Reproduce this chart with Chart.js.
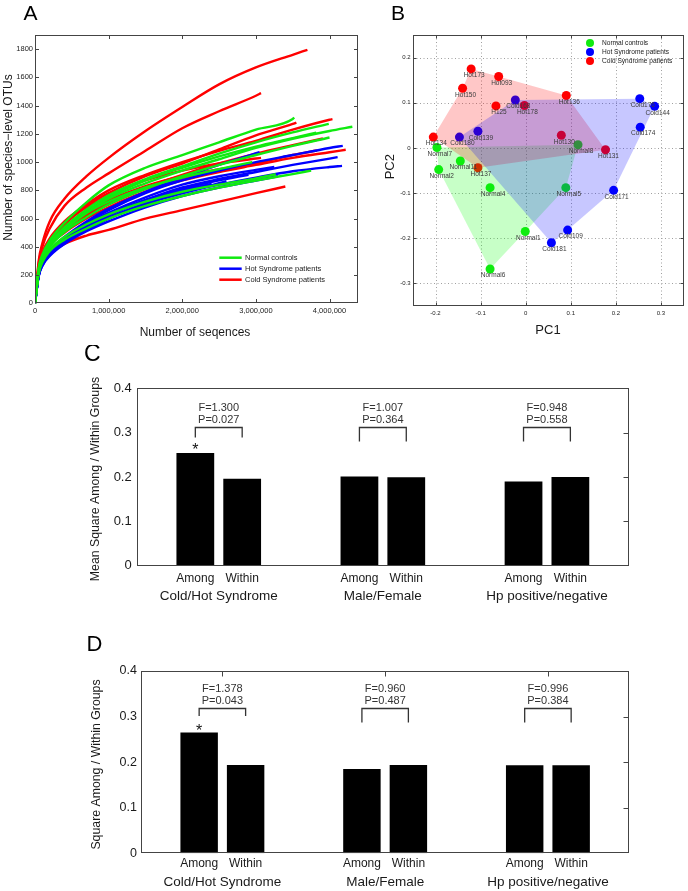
<!DOCTYPE html>
<html>
<head>
<meta charset="utf-8">
<script src="https://cdn.jsdelivr.net/npm/chart.js@4.4.1/dist/chart.umd.min.js"></script>
<style>
html, body { margin: 0; padding: 0; background: #fff; }
#fig { position: relative; width: 688px; height: 891px; overflow: hidden; background: #fff; }
#fig canvas { position: absolute; }
</style>
</head>
<body>
<div id="fig">
  <canvas id="chartA" width="370" height="345" style="left:0px;top:0px"></canvas>
  <canvas id="chartB" width="318" height="345" style="left:370px;top:0px"></canvas>
  <canvas id="chartC" width="688" height="285" style="left:0px;top:345px"></canvas>
  <canvas id="chartD" width="688" height="261" style="left:0px;top:630px"></canvas>
</div>
<script>
// ---------- Panel A: rarefaction curves (sequencing depth in millions) ----------
const depthsM = [0, 0.05, 0.1, 0.2, 0.4, 0.7, 1.0, 1.5, 2.0, 2.5, 3.0, 3.5, 4.0];

const normalCurves = [
    { v: [0, 250, 345, 445, 570, 715, 835, 960, 1050, 1140, 1230, 1305], end: [3.52, 1316] },
    { v: [0, 240, 330, 425, 540, 665, 765, 880, 970, 1060, 1140, 1210], end: [3.99, 1271] },
    { v: [0, 230, 320, 410, 520, 640, 740, 850, 940, 1020, 1100, 1165, 1220], end: [4.31, 1250] },
    { v: [0, 235, 325, 415, 530, 650, 750, 870, 960, 1040, 1110, 1170], end: [3.82, 1209] },
    { v: [0, 225, 310, 400, 505, 610, 700, 810, 900, 980, 1050, 1115], end: [4.0, 1174] },
    { v: [0, 210, 290, 370, 450, 530, 600, 690, 760, 820, 870, 915], end: [3.75, 940] },
    { v: [0, 215, 300, 380, 470, 560, 630, 720, 790, 840, 885], end: [3.27, 914] },
    { v: [0, 240, 330, 420, 530, 640, 720, 820, 890, 950], end: [2.95, 1000] }
];
const hotCurves = [
    { v: [0, 200, 280, 360, 460, 570, 660, 780, 870, 940, 1000, 1050, 1100], end: [4.18, 1115] },
    { v: [0, 210, 290, 370, 470, 580, 670, 790, 890, 980], end: [3.05, 1070] },
    { v: [0, 200, 275, 350, 440, 540, 620, 730, 820, 880, 930, 980, 1025], end: [4.11, 1035] },
    { v: [0, 195, 270, 340, 430, 520, 600, 700, 780, 840, 890, 935, 965], end: [4.17, 973] },
    { v: [0, 205, 285, 360, 455, 560, 640, 750, 840, 900, 945], end: [3.25, 965] },
    { v: [0, 200, 280, 355, 445, 540, 620, 730, 810, 870], end: [2.9, 910] },
    { v: [0, 195, 270, 345, 440, 530, 605, 710, 780, 850], end: [2.6, 865] },
    { v: [0, 190, 265, 335, 420, 510, 580, 680, 760, 820, 870], end: [3.3, 900] },
    { v: [0, 200, 275, 350, 450, 550, 630, 730, 800], end: [2.4, 845] }
];
const coldCurves = [
    { v: [0, 300, 425, 580, 740, 900, 1030, 1220, 1390, 1550, 1670, 1760], end: [3.7, 1795] },
    { v: [0, 280, 400, 530, 690, 820, 920, 1080, 1240, 1360, 1470], end: [3.07, 1488] },
    { v: [0, 260, 360, 460, 580, 700, 800, 910, 1000, 1080, 1150, 1230, 1300], end: [4.04, 1304] },
    { v: [0, 250, 350, 445, 560, 690, 780, 900, 990, 1090, 1190, 1270], end: [3.55, 1280] },
    { v: [0, 240, 335, 430, 530, 630, 710, 820, 910, 990, 1060, 1120], end: [3.91, 1167] },
    { v: [0, 230, 320, 410, 500, 600, 680, 790, 870, 930, 980, 1030, 1070], end: [4.22, 1087] },
    { v: [0, 235, 325, 420, 520, 620, 700, 810, 880, 940, 990, 1050], end: [3.83, 1082] },
    { v: [0, 245, 340, 440, 560, 680, 760, 870, 940, 990, 1025], end: [3.07, 1030] },
    { v: [0, 200, 280, 350, 420, 480, 520, 600, 660, 720, 780], end: [3.4, 827] },
    { v: [0, 240, 330, 425, 540, 650, 730, 830, 900, 950], end: [2.9, 985] }
];
const aXTicks = [0, 1000000, 2000000, 3000000, 4000000];
const aXTickLabels = ['0', '1,000,000', '2,000,000', '3,000,000', '4,000,000'];
const aYTicks = [0, 200, 400, 600, 800, 1000, 1200, 1400, 1600, 1800];
const aYTickLabels = ['0', '200', '400', '600', '800', '1000', '1200', '1400', '1600', '1800'];
const groupNames = ['Normal controls', 'Hot Syndrome patients', 'Cold Syndrome patients'];

// ---------- Panel B: PCA ----------
const normalNames = ['Normal7', 'Normal2', 'Normal11', 'Normal4', 'Normal5', 'Normal1', 'Normal6', 'Normal8'];
const normalPC1 = [-0.197, -0.193, -0.145, -0.079, 0.089, -0.001, -0.079, 0.116];
const normalPC2 = [0.001, -0.048, -0.029, -0.088, -0.088, -0.185, -0.268, 0.007];

const hotNames = ['Cold180', 'Cold139', 'Cold168', 'Cold176', 'Cold144', 'Cold174', 'Cold171', 'Cold109', 'Cold181'];
const hotPC1 = [-0.147, -0.106, -0.023, 0.253, 0.286, 0.254, 0.195, 0.093, 0.057];
const hotPC2 = [0.024, 0.037, 0.106, 0.109, 0.092, 0.046, -0.094, -0.182, -0.210];

const coldNames = ['Hot173', 'Hot093', 'Hot150', 'H125', 'Hot178', 'Hot136', 'Hot134', 'Hot130', 'Hot131', 'Hot137'];
const coldPC1 = [-0.121, -0.060, -0.140, -0.066, -0.003, 0.090, -0.205, 0.079, 0.177, -0.106];
const coldPC2 = [0.175, 0.158, 0.132, 0.093, 0.094, 0.116, 0.024, 0.028, -0.004, -0.044];

const normalHull = ['Normal7', 'Normal8', 'Normal5', 'Normal1', 'Normal6', 'Normal2'];
const hotHull = ['Cold180', 'Cold168', 'Cold176', 'Cold144', 'Cold171', 'Cold109', 'Cold181'];
const coldHull = ['Hot134', 'Hot150', 'Hot173', 'Hot093', 'Hot136', 'Hot131', 'Hot137'];

const pcTicks = [-0.3, -0.2, -0.1, 0, 0.1, 0.2, 0.3];
const pc1TickLabels = ['-0.2', '-0.1', '0', '0.1', '0.2', '0.3'];
const pc2TickLabels = ['-0.3', '-0.2', '-0.1', '0', '0.1', '0.2'];

// ---------- Panels C and D: ANOVA ----------
const anovaGroups = ['Cold/Hot Syndrome', 'Male/Female', 'Hp positive/negative'];
const cAmong = [0.254, 0.201, 0.190];
const cWithin = [0.196, 0.1995, 0.200];
const cF = ['F=1.300', 'F=1.007', 'F=0.948'];
const cP = ['P=0.027', 'P=0.364', 'P=0.558'];
const dAmong = [0.265, 0.185, 0.193];
const dWithin = [0.194, 0.194, 0.193];
const dF = ['F=1.378', 'F=0.960', 'F=0.996'];
const dP = ['P=0.043', 'P=0.487', 'P=0.384'];
const significant = [true, false, false];
const msTicks = [0, 0.1, 0.2, 0.3, 0.4];
const msTickLabels = ['0', '0.1', '0.2', '0.3', '0.4'];

// ---------- helpers ----------
const FONT = '"Liberation Sans", Arial, Helvetica, sans-serif';
const font = px => px + 'px ' + FONT;
const GREEN = '#10ea10', BLUE = '#0000ff', RED = '#ff0000';

function fixedTicks(values) {
    return scale => { scale.ticks = values.map(v => ({ value: v })); };
}
function fixSize(w, h) {
    return scale => {
        if (w !== null) scale.width = w;
        if (h !== null) scale.height = h;
        scale.paddingLeft = scale.paddingRight = scale.paddingTop = scale.paddingBottom = 0;
    };
}
function line(ctx, x1, y1, x2, y2) {
    ctx.beginPath(); ctx.moveTo(x1, y1); ctx.lineTo(x2, y2); ctx.stroke();
}

function textLayer(items, ox, oy) {
    return {
        id: 'textLayer',
        afterDraw(chart) {
            const ctx = chart.ctx;
            items.forEach(t => {
                ctx.save();
                ctx.font = font(t.size);
                ctx.fillStyle = t.color || '#1a1a1a';
                ctx.textAlign = t.align || 'center';
                ctx.textBaseline = 'middle';
                ctx.translate(t.x - ox, t.y - oy);
                if (t.rot) ctx.rotate(t.rot);
                ctx.fillText(t.text, 0, 0);
                ctx.restore();
            });
        }
    };
}

// box + inward ticks (matlab style), optional dotted grid
function frameLayer(cfg) {
    return {
        id: 'frameLayer',
        beforeDatasetsDraw(chart) {
            if (!cfg.grid) return;
            const { ctx, chartArea: a, scales } = chart;
            ctx.save();
            ctx.strokeStyle = '#a0a0a0';
            ctx.lineWidth = 1;
            ctx.setLineDash([1, 2.5]);
            cfg.gridX.forEach(v => {
                const x = Math.round(scales.x.getPixelForValue(v)) + 0.5;
                if (x > a.left + 1 && x < a.right - 1) line(ctx, x, a.top, x, a.bottom);
            });
            cfg.gridY.forEach(v => {
                const y = Math.round(scales.y.getPixelForValue(v)) + 0.5;
                if (y > a.top + 1 && y < a.bottom - 1) line(ctx, a.left, y, a.right, y);
            });
            ctx.restore();
        },
        afterDatasetsDraw(chart) {
            const { ctx, chartArea: a, scales } = chart;
            const L = cfg.len;
            ctx.save();
            ctx.strokeStyle = cfg.color || '#333';
            ctx.lineWidth = 1;
            const l = Math.round(a.left) + 0.5, r = Math.round(a.right) - 0.5;
            const t = Math.round(a.top) + 0.5, b = Math.round(a.bottom) - 0.5;
            ctx.strokeRect(l, t, r - l, b - t);
            const px = v => Math.round(scales.x.getPixelForValue(v)) + 0.5;
            const py = v => Math.round(scales.y.getPixelForValue(v)) + 0.5;
            (cfg.top || []).forEach(v => line(ctx, px(v), t, px(v), t + L));
            (cfg.bottom || []).forEach(v => line(ctx, px(v), b, px(v), b - L));
            (cfg.left || []).forEach(v => line(ctx, l, py(v), l + L, py(v)));
            (cfg.right || []).forEach(v => line(ctx, r, py(v), r - L, py(v)));
            ctx.restore();
        }
    };
}

const baseOptions = {
    responsive: false,
    animation: false,
    devicePixelRatio: 1,
    events: []
};

// ---------- Panel A ----------
function curveData(c) {
    const pts = c.v.map((y, i) => ({ x: depthsM[i] * 1e6, y: y }));
    pts.push({ x: c.end[0] * 1e6, y: c.end[1] });
    return pts;
}
// first dataset is drawn on top: green, then blue, red underneath
const aDatasets = [];
normalCurves.forEach(c => aDatasets.push({ data: curveData(c), borderColor: GREEN }));
hotCurves.forEach(c => aDatasets.push({ data: curveData(c), borderColor: BLUE }));
coldCurves.forEach(c => aDatasets.push({ data: curveData(c), borderColor: RED }));
aDatasets.forEach(d => {
    d.borderWidth = 2.4;
    d.pointRadius = 0;
    d.fill = false;
    d.cubicInterpolationMode = 'monotone';
});

const legendA = {
    id: 'legendA',
    afterDraw(chart) {
        const ctx = chart.ctx;
        const colors = [GREEN, BLUE, RED];
        ctx.save();
        ctx.font = font(7.5);
        ctx.textBaseline = 'middle';
        ctx.fillStyle = '#222';
        groupNames.forEach((name, i) => {
            const y = 257.7 + i * 11;
            ctx.strokeStyle = colors[i];
            ctx.lineWidth = 2.5;
            line(ctx, 219.3, y, 241.7, y);
            ctx.fillText(name, 245, y);
        });
        ctx.restore();
    }
};

new Chart(document.getElementById('chartA'), {
    type: 'line',
    data: { datasets: aDatasets },
    options: Object.assign({}, baseOptions, {
        layout: { padding: { left: 0, top: 35, right: 12.5, bottom: 1.7 } },
        plugins: { legend: { display: false }, tooltip: { enabled: false } },
        scales: {
            x: {
                type: 'linear', min: 0, max: 4380000,
                afterBuildTicks: fixedTicks(aXTicks),
                afterFit: fixSize(null, 40),
                grid: { display: false, drawTicks: false },
                border: { display: false },
                ticks: { font: { family: FONT, size: 7.5 }, color: '#222', padding: 3, maxRotation: 0,
                         callback: (v, i) => aXTickLabels[i] }
            },
            y: {
                min: 0, max: 1900,
                afterBuildTicks: fixedTicks(aYTicks),
                afterFit: fixSize(35, null),
                grid: { display: false, drawTicks: false },
                border: { display: false },
                ticks: { font: { family: FONT, size: 7.5 }, color: '#222', padding: 2,
                         callback: (v, i) => aYTickLabels[i] }
            }
        }
    }),
    plugins: [
        frameLayer({ len: 3.5, color: '#444', top: aXTicks.slice(1), bottom: aXTicks.slice(1),
                     left: aYTicks.slice(1), right: aYTicks.slice(1) }),
        legendA,
        textLayer([
            { text: 'A', x: 30.5, y: 14.5, size: 21, color: '#000' },
            { text: 'Number of species\u2212level OTUs', x: 9, y: 157.5, size: 12, rot: -Math.PI / 2 },
            { text: 'Number of seqences', x: 195, y: 333, size: 12 }
        ], 0, 0)
    ]
});

// ---------- Panel B ----------
const pointsByName = {};
function makePoints(names, xs, ys) {
    return names.map((n, i) => {
        const p = { x: xs[i], y: ys[i], name: n };
        pointsByName[n] = p;
        return p;
    });
}
const normalPts = makePoints(normalNames, normalPC1, normalPC2);
const hotPts = makePoints(hotNames, hotPC1, hotPC2);
const coldPts = makePoints(coldNames, coldPC1, coldPC2);
function hullData(names) {
    const p = names.map(n => ({ x: pointsByName[n].x, y: pointsByName[n].y }));
    return p.concat([p[0]]);
}
function hullSet(names, color, order) {
    return { data: hullData(names), showLine: true, fill: 'shape', backgroundColor: color,
             borderColor: 'rgba(0,0,0,0)', borderWidth: 0, pointRadius: 0, tension: 0, order: order };
}
function pointSet(pts, color, order) {
    return { data: pts.map(p => ({ x: p.x, y: p.y })), backgroundColor: color, borderColor: color,
             borderWidth: 0, pointRadius: 4.5, order: order };
}

const pcaLabels = {
    id: 'pcaLabels',
    afterDatasetsDraw(chart) {
        const { ctx, scales: { x, y } } = chart;
        ctx.save();
        ctx.font = font(6.5);
        ctx.fillStyle = '#3a3a3a';
        ctx.textAlign = 'center';
        ctx.textBaseline = 'middle';
        normalPts.concat(hotPts, coldPts).forEach(p => {
            ctx.fillText(p.name, x.getPixelForValue(p.x) + 3, y.getPixelForValue(p.y) + 6.5);
        });
        // legend
        const colors = [GREEN, BLUE, RED];
        ctx.textAlign = 'left';
        ctx.font = font(6.6);
        groupNames.forEach((name, i) => {
            const cy = 43 + i * 9;
            ctx.fillStyle = colors[i];
            ctx.beginPath(); ctx.arc(590 - 370, cy, 4, 0, Math.PI * 2); ctx.fill();
            ctx.fillStyle = '#222';
            ctx.fillText(name, 602 - 370, cy);
        });
        ctx.restore();
    }
};

new Chart(document.getElementById('chartB'), {
    type: 'scatter',
    data: {
        datasets: [
            hullSet(hotHull, 'rgba(0,0,255,0.22)', 1),
            hullSet(coldHull, 'rgba(255,0,0,0.22)', 2),
            hullSet(normalHull, 'rgba(0,255,0,0.22)', 3),
            pointSet(coldPts, RED, 4),
            pointSet(hotPts, BLUE, 5),
            pointSet(normalPts, GREEN, 6)
        ]
    },
    options: Object.assign({}, baseOptions, {
        layout: { padding: { left: 0, top: 35, right: 1, bottom: 9 } },
        plugins: { legend: { display: false }, tooltip: { enabled: false } },
        scales: {
            x: {
                type: 'linear', min: -0.25, max: 0.35,
                afterBuildTicks: fixedTicks(pcTicks.slice(1)),
                afterFit: fixSize(null, 30),
                grid: { display: false, drawTicks: false },
                border: { display: false },
                ticks: { font: { family: FONT, size: 6 }, color: '#222', padding: 4, maxRotation: 0,
                         callback: (v, i) => pc1TickLabels[i] }
            },
            y: {
                type: 'linear', min: -0.35, max: 0.25,
                afterBuildTicks: fixedTicks(pcTicks.slice(0, 6)),
                afterFit: fixSize(43, null),
                grid: { display: false, drawTicks: false },
                border: { display: false },
                ticks: { font: { family: FONT, size: 6 }, color: '#222', padding: 2.5,
                         callback: (v, i) => pc2TickLabels[i] }
            }
        }
    }),
    plugins: [
        frameLayer({ len: 3, color: '#444', grid: true, gridX: pcTicks.slice(1), gridY: pcTicks.slice(0, 6),
                     top: pcTicks.slice(1), bottom: pcTicks.slice(1),
                     left: pcTicks.slice(0, 6), right: pcTicks.slice(0, 6) }),
        pcaLabels,
        textLayer([
            { text: 'B', x: 398, y: 14.5, size: 21, color: '#000' },
            { text: 'PC2', x: 390.7, y: 166.7, size: 13, rot: -Math.PI / 2 },
            { text: 'PC1', x: 548, y: 330, size: 13 }
        ], 370, 0)
    ]
});

// ---------- Panels C and D ----------
function anovaLayer(cfg) {
    return {
        id: 'anovaLayer',
        afterDatasetsDraw(chart) {
            const { ctx, chartArea: a, scales: { y } } = chart;
            const among = chart.getDatasetMeta(0).data;
            const within = chart.getDatasetMeta(1).data;
            ctx.save();
            anovaGroups.forEach((g, i) => {
                const x1 = among[i].x, x2 = within[i].x, mid = (x1 + x2) / 2;
                const top = Math.round(y.getPixelForValue(cfg.bracket)) + 0.5;
                const leg = significant[i] ? cfg.shortLeg : 14;
                ctx.strokeStyle = '#333';
                ctx.lineWidth = 1.3;
                ctx.beginPath();
                ctx.moveTo(x1, top + leg); ctx.lineTo(x1, top); ctx.lineTo(x2, top); ctx.lineTo(x2, top + leg);
                ctx.stroke();
                ctx.fillStyle = '#333';
                ctx.textAlign = 'center';
                ctx.textBaseline = 'middle';
                ctx.font = font(11);
                ctx.fillText(cfg.f[i], mid, top - 20);
                ctx.fillText(cfg.p[i], mid, top - 7.3);
                if (significant[i]) {
                    ctx.fillStyle = '#111';
                    ctx.font = font(16);
                    ctx.textBaseline = 'alphabetic';
                    ctx.fillText('*', x1, among[i].y + cfg.starBase);
                    ctx.textBaseline = 'middle';
                }
                ctx.fillStyle = '#1a1a1a';
                ctx.font = font(12);
                ctx.fillText('Among', x1, a.bottom + cfg.subGap);
                ctx.fillText('Within', x2, a.bottom + cfg.subGap);
                ctx.font = font(13.5);
                ctx.fillText(g, mid, a.bottom + cfg.groupGap);
            });
            ctx.restore();
        }
    };
}

function barOptions(pad, yWidth, tickPad, tickSize) {
    return Object.assign({}, baseOptions, {
        layout: { padding: pad },
        plugins: { legend: { display: false }, tooltip: { enabled: false } },
        scales: {
            x: {
                type: 'category',
                afterFit: fixSize(null, 10),
                grid: { display: false, drawTicks: false },
                border: { display: false },
                ticks: { display: false }
            },
            y: {
                min: 0, max: 0.4,
                afterBuildTicks: fixedTicks(msTicks),
                afterFit: fixSize(yWidth, null),
                grid: { display: false, drawTicks: false },
                border: { display: false },
                ticks: { font: { family: FONT, size: tickSize }, color: '#1a1a1a', padding: tickPad,
                         callback: (v, i) => msTickLabels[i] }
            }
        }
    });
}
function barData(among, within) {
    const common = { backgroundColor: '#000', borderWidth: 0, categoryPercentage: 0.571, barPercentage: 0.806 };
    return {
        labels: anovaGroups,
        datasets: [
            Object.assign({ label: 'Among', data: among }, common),
            Object.assign({ label: 'Within', data: within }, common)
        ]
    };
}

new Chart(document.getElementById('chartC'), {
    type: 'bar',
    data: barData(cAmong, cWithin),
    options: barOptions({ left: 0, top: 43.3, right: 59, bottom: 54.3 }, 136.7, 5, 13),
    plugins: [
        frameLayer({ len: 5, color: '#444', right: [0.1, 0.2, 0.3] }),
        anovaLayer({ bracket: 0.312, shortLeg: 10, f: cF, p: cP, starBase: 2, subGap: 12.6, groupGap: 31 }),
        textLayer([
            { text: 'C', x: 92.3, y: 355, size: 23, color: '#000' },
            { text: 'Mean Square Among / Within Groups', x: 96, y: 479, size: 12.3, rot: -Math.PI / 2 }
        ], 0, 345)
    ]
});

new Chart(document.getElementById('chartD'), {
    type: 'bar',
    data: barData(dAmong, dWithin),
    options: barOptions({ left: 0, top: 41, right: 58.7, bottom: 27.7 }, 141, 4, 12.5),
    plugins: [
        frameLayer({ len: 5, color: '#444', top: [0, 1, 2], right: [0.1, 0.2, 0.3] }),
        anovaLayer({ bracket: 0.318, shortLeg: 7.5, f: dF, p: dP, starBase: 3.5, subGap: 10.7, groupGap: 29.4 }),
        textLayer([
            { text: 'D', x: 94.5, y: 644.7, size: 22, color: '#000' },
            { text: 'Square Among / Within Groups', x: 96.7, y: 764.5, size: 12.3, rot: -Math.PI / 2 }
        ], 0, 630)
    ]
});
</script>
</body>
</html>
